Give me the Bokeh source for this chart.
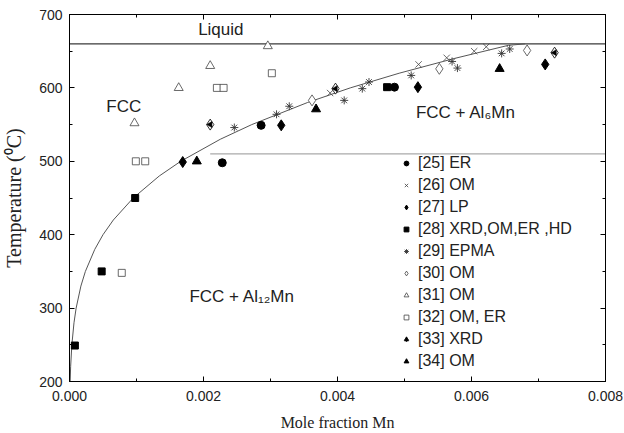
from bokeh.plotting import figure
from bokeh.models import (Legend, LegendItem, LinearAxis, Label, Range1d,
                          FixedTicker, NumeralTickFormatter)
from bokeh.embed import file_html
from bokeh.resources import INLINE

# ---- phase boundaries ----
solvus_x = [0.00001, 0.000017, 0.000035, 0.000067, 0.000099, 0.00017, 0.000237,
            0.000377, 0.0005, 0.000654, 0.000951, 0.00134, 0.00166, 0.00225,
            0.00272, 0.00355, 0.00419, 0.00492, 0.00574, 0.00655, 0.0068]
solvus_t = [200, 220, 250, 280, 300, 330, 350, 380, 400, 420, 450, 480, 500,
            530, 550, 580, 600, 620, 640, 658, 660]
liquid_x = [0.0, 0.008]
liquid_t = [660, 660]
eut_x = [0.0021, 0.008]
eut_t = [510, 510]

# ---- experimental data ----
s25_x = [0.00228, 0.00286, 0.00485]
s25_t = [498, 549, 601]
s26_x = [0.00389, 0.00521, 0.00563, 0.00604, 0.00622]
s26_t = [593, 632, 641, 650, 656]
s27_x = [0.00169, 0.00316, 0.00520, 0.00710]
s27_t = [499, 549, 601, 632]
s28_x = [0.00008, 0.00048, 0.00098, 0.00474]
s28_t = [249, 350, 450, 601]
s29_x = [0.00246, 0.00309, 0.00328, 0.00410, 0.00437, 0.00447, 0.00510,
         0.00571, 0.00579, 0.00645, 0.00657]
s29_t = [546, 564, 575, 583, 599, 608, 617, 636, 627, 647, 653]
s30_x = [0.00362, 0.00552, 0.00683]
s30_t = [583, 626, 651]
s31_x = [0.00097, 0.00163, 0.00210, 0.00296]
s31_t = [552, 600, 630, 657]
s32_x = [0.00078, 0.00099, 0.00113, 0.00220, 0.00230, 0.00302]
s32_t = [348, 500, 500, 600, 600, 620]
s33_x = [0.00210, 0.00397, 0.00724]
s33_t = [550, 599, 648]
s34_x = [0.00190, 0.00368, 0.00642]
s34_t = [500, 571, 626]

labels = ["[25] ER", "[26] OM", "[27] LP", "[28] XRD,OM,ER ,HD", "[29] EPMA",
          "[30] OM", "[31] OM", "[32] OM, ER", "[33] XRD", "[34] OM"]

x_ticks = [0.0, 0.002, 0.004, 0.006, 0.008]
x_minor = [0.001, 0.003, 0.005, 0.007]
y_ticks = [200, 300, 400, 500, 600, 700]
y_minor = [250, 350, 450, 550, 650]

SANS = "Liberation Sans"
SERIF = "Liberation Serif"

p = figure(width=624, height=433, output_backend="svg", toolbar_location=None,
           x_range=Range1d(0, 0.008), y_range=Range1d(200, 700),
           min_border_left=68, min_border_right=19, min_border_top=14,
           min_border_bottom=50)
p.grid.visible = False
p.outline_line_color = "black"
p.outline_line_width = 1
p.background_fill_color = "white"
p.border_fill_color = "white"


def style_axis(ax, ticks, minor, show_labels=True):
    ax.ticker = FixedTicker(ticks=ticks, minor_ticks=minor)
    ax.major_tick_in = 5
    ax.major_tick_out = 0
    ax.minor_tick_in = 3
    ax.minor_tick_out = 0
    ax.axis_line_color = "black"
    ax.major_tick_line_color = "black"
    ax.minor_tick_line_color = "black"
    ax.major_label_text_font = SANS
    if show_labels:
        ax.major_label_text_font_size = "14px"
        ax.major_label_text_color = "#222222"
    else:
        ax.major_label_text_font_size = "1px"
        ax.major_label_text_color = None
        ax.major_label_text_alpha = 0
        ax.major_label_standoff = 0


xa = p.xaxis[0]
ya = p.yaxis[0]
style_axis(xa, x_ticks, x_minor)
style_axis(ya, y_ticks, y_minor)
xa.formatter = NumeralTickFormatter(format="0.000")
xa.major_label_standoff = 9
ya.major_label_standoff = 7
xa.axis_label = "Mole fraction Mn"
ya.axis_label = "Temperature (\u2070C)"
for ax in (xa, ya):
    ax.axis_label_text_font = SERIF
    ax.axis_label_text_font_style = "normal"
    ax.axis_label_text_color = "#222222"
xa.axis_label_text_font_size = "16px"
ya.axis_label_text_font_size = "20px"
xa.axis_label_standoff = 10
ya.axis_label_standoff = 11

top = LinearAxis()
style_axis(top, x_ticks, x_minor, show_labels=False)
p.add_layout(top, "above")
right = LinearAxis()
style_axis(right, y_ticks, y_minor, show_labels=False)
p.add_layout(right, "right")

# ---- lines ----
p.line(liquid_x, liquid_t, line_color="#3a3a3a", line_width=1.2)
p.line(eut_x, eut_t, line_color="#aaaaaa", line_width=1.2)
p.line(solvus_x, solvus_t, line_color="#555555", line_width=1)

# ---- markers ----
r25 = p.scatter(s25_x, s25_t, marker="circle", size=8, fill_color="black", line_color="black")
r26 = p.scatter(s26_x, s26_t, marker="x", size=9, line_color="#444444", line_width=0.8)
r27 = p.scatter(s27_x, s27_t, marker="diamond", size=11, fill_color="black", line_color="black")
r28 = p.scatter(s28_x, s28_t, marker="square", size=7, fill_color="black", line_color="black")
r29 = p.scatter(s29_x, s29_t, marker="asterisk", size=8, line_color="#333333", line_width=0.9)
r30 = p.scatter(s30_x, s30_t, marker="diamond", size=11, fill_color="white", line_color="#444444", line_width=0.8)
r31 = p.scatter(s31_x, s31_t, marker="triangle", size=9, fill_color="white", line_color="#444444", line_width=0.8)
r32 = p.scatter(s32_x, s32_t, marker="square", size=7, fill_color="white", line_color="#444444", line_width=0.8)
r33a = p.scatter(s33_x, s33_t, marker="diamond", size=11, fill_color="white", line_color="black", line_width=0.8)
r33b = p.scatter(s33_x, s33_t, marker="triangle", size=6, angle=1.5708, fill_color="black", line_color="black", line_width=0.5)
r34 = p.scatter(s34_x, s34_t, marker="triangle", size=9, fill_color="black", line_color="black")

rends = [[r25], [r26], [r27], [r28], [r29], [r30], [r31], [r32], [r33a, r33b], [r34]]
legend = Legend(items=[LegendItem(label=l, renderers=r) for l, r in zip(labels, rends)],
                location=(331, 11), orientation="vertical",
                glyph_width=12, glyph_height=18, label_height=18, spacing=4,
                label_standoff=6, padding=0, margin=0,
                background_fill_alpha=0, border_line_alpha=0,
                label_text_font=SANS, label_text_font_size="16px",
                label_text_color="#222222")
p.add_layout(legend)

# ---- region labels ----
for txt, x, y in [("Liquid", 0.00192, 679),
                  ("FCC", 0.00055, 575),
                  ("FCC + Al\u2086Mn", 0.00517, 567),
                  ("FCC + Al\u2081\u2082Mn", 0.00179, 316)]:
    p.add_layout(Label(x=x, y=y, text=txt, text_font=SANS, text_font_size="17px",
                       text_color="#222222", text_baseline="middle", text_align="left"))

open("out.html", "w").write(file_html(p, INLINE))
